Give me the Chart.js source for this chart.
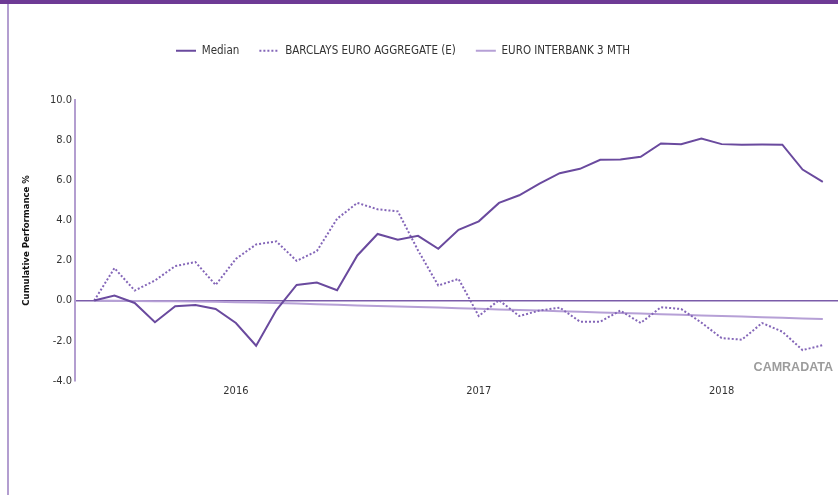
<!DOCTYPE html>
<html>
<head>
<meta charset="utf-8">
<script src="https://cdn.jsdelivr.net/npm/chart.js@4"></script>
<style>
  html, body { margin: 0; padding: 0; background: #fff; }
  #wrap { position: relative; width: 838px; height: 495px; overflow: hidden; }
  #topbar { position: absolute; left: 0; top: 0; width: 838px; height: 4px; background: #6e3a95; }
  #leftbar { position: absolute; left: 7px; top: 4px; width: 2px; height: 491px; background: #b39ed0; }
  #brand { position: absolute; right: 5px; top: 360px; font: bold 12.5px "Liberation Sans", Arial, sans-serif; color: #9c9c9c; }
</style>
</head>
<body>
<div id="wrap">
  <canvas id="perfChart" width="838" height="495"></canvas>
  <div id="topbar"></div>
  <div id="leftbar"></div>
  <div id="brand">CAMRADATA</div>
</div>
<script>
// monthly points, Jun 2015 - Jun 2018
const months = ['2015-06', '2015-07', '2015-08', '2015-09', '2015-10', '2015-11', '2015-12',
  '2016-01', '2016-02', '2016-03', '2016-04', '2016-05', '2016-06', '2016-07', '2016-08', '2016-09', '2016-10', '2016-11', '2016-12',
  '2017-01', '2017-02', '2017-03', '2017-04', '2017-05', '2017-06', '2017-07', '2017-08', '2017-09', '2017-10', '2017-11', '2017-12',
  '2018-01', '2018-02', '2018-03', '2018-04', '2018-05', '2018-06'];

const median = [0, 0.25, -0.12, -1.08, -0.28, -0.22, -0.42, -1.12, -2.25, -0.47, 0.78, 0.9, 0.52, 2.25, 3.32, 3.03, 3.23, 2.58, 3.53,
  3.95, 4.87, 5.25, 5.83, 6.35, 6.57, 7.02, 7.03, 7.17, 7.83, 7.8, 8.08, 7.8, 7.77, 7.78, 7.77, 6.53, 5.92];

const barclays = [0, 1.62, 0.5, 1.0, 1.72, 1.92, 0.78, 2.08, 2.8, 2.95, 1.98, 2.47, 4.08, 4.87, 4.55, 4.45, 2.5, 0.75, 1.08,
  -0.77, 0.02, -0.77, -0.5, -0.35, -1.05, -1.05, -0.5, -1.12, -0.33, -0.42, -1.1, -1.87, -1.95, -1.12, -1.55, -2.47, -2.22];

const interbank = [0, -0.01, -0.02, -0.03, -0.04, -0.05, -0.06, -0.08, -0.10, -0.12, -0.15, -0.18, -0.21, -0.24, -0.27, -0.30, -0.32, -0.35, -0.38,
  -0.41, -0.44, -0.47, -0.50, -0.53, -0.56, -0.59, -0.62, -0.65, -0.68, -0.71, -0.74, -0.77, -0.80, -0.83, -0.86, -0.89, -0.92];

const yTicks = [-4, -2, 0, 2, 4, 6, 8, 10];

const toPoints = arr => arr.map((v, i) => ({ x: i, y: v }));
// year ticks sit on the January points
const yearIdx = months.map((m, i) => m.endsWith('-01') ? i : -1).filter(i => i >= 0);

const FONT = '"DejaVu Sans Condensed", "DejaVu Sans", sans-serif';

// taller legend box and nudge it left so it lines up with the original
const legendTweak = {
    id: 'legendTweak',
    beforeInit(chart) {
        const fit = chart.legend.fit;
        chart.legend.fit = function () {
            fit.call(this);
            this.height = 75;
        };
    },
    afterLayout(chart) {
        chart.legend.left -= 22;
        chart.legend.right -= 22;
    }
};

const ctx = document.getElementById('perfChart').getContext('2d');
const perfChart = new Chart(ctx, {
    type: 'line',
    data: {
        datasets: [{
            label: 'Median',
            data: toPoints(median),
            borderColor: '#6a4a9e',
            backgroundColor: '#6a4a9e',
            borderWidth: 2,
        }, {
            label: 'BARCLAYS EURO AGGREGATE (E)',
            data: toPoints(barclays),
            borderColor: '#8466b8',
            backgroundColor: '#8466b8',
            borderWidth: 2,
            borderDash: [2, 2],
        }, {
            label: 'EURO INTERBANK 3 MTH',
            data: toPoints(interbank),
            borderColor: '#b6a0d6',
            backgroundColor: '#b6a0d6',
            borderWidth: 2,
        }]
    },
    options: {
        responsive: false,
        animation: false,
        elements: {
            point: { radius: 0, hoverRadius: 0 },
            line: { tension: 0 }
        },
        layout: { padding: { left: 12, right: 0, top: 25, bottom: 93 } },
        scales: {
            x: {
                type: 'linear',
                min: -0.95,
                max: 36.75,
                afterBuildTicks: scale => { scale.ticks = yearIdx.map(v => ({ value: v })); },
                ticks: {
                    callback: v => months[v] ? months[v].slice(0, 4) : '',
                    font: { family: FONT, size: 11 },
                    color: '#333',
                    padding: 4,
                    maxRotation: 0,
                    autoSkip: false
                },
                grid: { display: false, drawTicks: false },
                border: { display: false }
            },
            y: {
                min: -4,
                max: 10,
                afterBuildTicks: scale => { scale.ticks = yTicks.map(v => ({ value: v })); },
                afterFit: scale => { scale.width = 63; },
                ticks: {
                    callback: v => v.toFixed(1),
                    font: { family: FONT, size: 11 },
                    color: '#333',
                    padding: 3
                },
                grid: {
                    drawTicks: false,
                    color: c => c.tick && c.tick.value === 0 ? '#7b5ca9' : 'rgba(0,0,0,0)',
                    lineWidth: 1.5
                },
                border: { color: '#b39ed0', width: 2 },
                title: {
                    display: true,
                    text: 'Cumulative Performance %',
                    font: { family: FONT, size: 9.5, weight: 'bold' },
                    color: '#111',
                    padding: { top: 9, bottom: 0 }
                }
            }
        },
        plugins: {
            legend: {
                position: 'top',
                labels: {
                    usePointStyle: true,
                    pointStyle: 'line',
                    pointStyleWidth: 20,
                    padding: 20,
                    font: { family: FONT, size: 11.5 },
                    color: '#333',
                    // point-style legend items lose the dash, so copy it from the dataset
                    generateLabels: chart => {
                        const items = Chart.defaults.plugins.legend.labels.generateLabels(chart);
                        items.forEach(item => {
                            const ds = chart.data.datasets[item.datasetIndex];
                            item.lineDash = ds.borderDash || [];
                            item.lineWidth = 2;
                            item.strokeStyle = ds.borderColor;
                        });
                        return items;
                    }
                }
            },
            tooltip: { enabled: false }
        }
    },
    plugins: [legendTweak]
});
</script>
</body>
</html>
